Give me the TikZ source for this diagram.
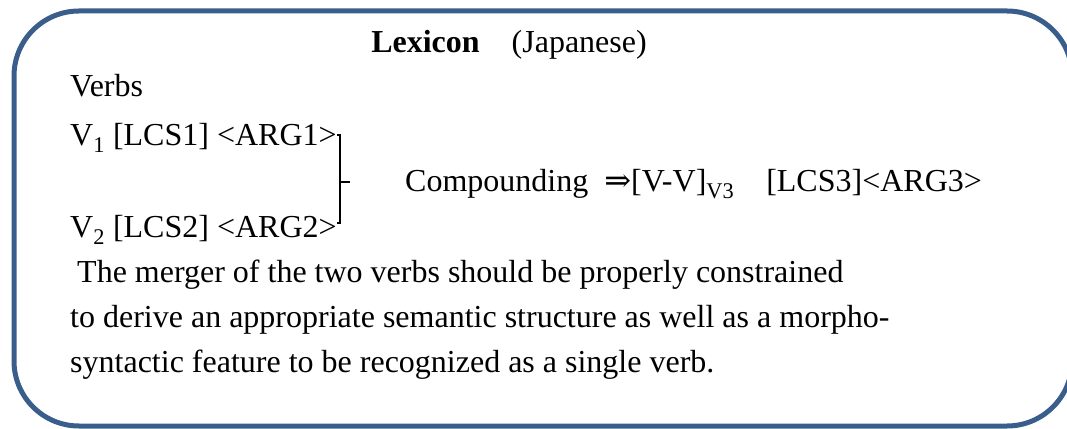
\documentclass[tikz,border=0pt]{standalone}
\usepackage{fontspec}
\setmainfont{Liberation Serif}
\newfontfamily\arrowfont{DejaVu Serif}
\usetikzlibrary{positioning,calc}
\definecolor{frameblue}{RGB}{58,94,140}

\begin{document}
\begin{tikzpicture}[
  x=1pt, y=1pt,
  font=\fontsize{32}{38}\selectfont,
  txt/.style={inner sep=0pt, anchor=base west},
  frame/.style={draw=frameblue, line width=5pt, rounded corners=65pt},
  bracket/.style={draw, line width=2pt}
]
\useasboundingbox (0,0) rectangle (1067,428);
\draw[frame] (14,2) rectangle (1072,417);

\node[txt, anchor=base] (title) at (509,375) {\textbf{Lexicon}\quad(Japanese)};
\node[txt] (verbs) at (70,331) {Verbs};
\node[txt, below=49pt of verbs.base west, anchor=base west] (v1) {V\textsubscript{1} [LCS1] <ARG1>};
\node[txt, below=92pt of v1.base west, anchor=base west] (v2) {V\textsubscript{2} [LCS2] <ARG2>};
\node[txt] (comp) at (405,236) {Compounding \ {\arrowfont ⇒}[V-V]\textsubscript{V3}\quad [LCS3]<ARG3>};

\node[txt, below=45pt of v2.base west, anchor=base west, xshift=7pt] (p1) {The merger of the two verbs should be properly constrained};
\node[txt, below=45pt of p1.base west, anchor=base west, xshift=-7pt] (p2) {to derive an appropriate semantic structure as well as a morpho-};
\node[txt, below=45pt of p2.base west, anchor=base west] (p3) {syntactic feature to be recognized as a single verb.};

% bracket joining the two verbs
\draw[bracket] ([yshift=11pt]v1.base east) -| ([xshift=3pt,yshift=15pt]v2.base east)
  -- ([yshift=15pt]v2.base east);
\draw[bracket] ($([xshift=3pt]v1.base east)!0.5!([xshift=3pt]v2.base east)$) ++(0,10) -- ++(10,0);
\end{tikzpicture}
\end{document}
